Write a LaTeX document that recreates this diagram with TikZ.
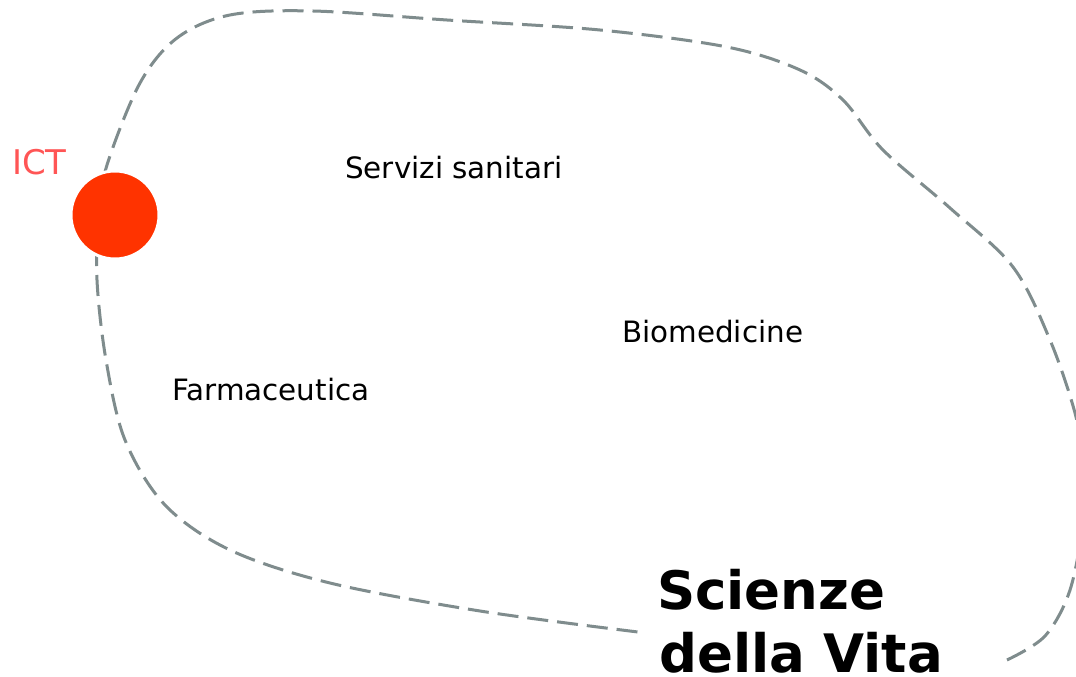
\documentclass[tikz,border=0pt]{standalone}
\usepackage{fontspec}
\setmainfont{DejaVu Sans}
\begin{document}
\begin{tikzpicture}[x=1pt,y=-1pt,
  outline/.style={draw=curvegray, line width=3pt, dash pattern=on 21pt off 9pt},
  lbl/.style={font=\fontsize{29.4}{35}\selectfont, text=black, inner sep=0pt, anchor=base west},
  title/.style={font=\fontsize{53}{62}\bfseries\selectfont, text=black, inner sep=0pt, text depth=0pt, anchor=base west},
  dot/.style={circle, fill=ictred, draw=white, line width=3pt, minimum size=88pt, inner sep=0pt}]
\definecolor{curvegray}{RGB}{127,140,141}
\definecolor{ictred}{RGB}{255,51,0}
\definecolor{icttext}{RGB}{255,85,85}
\clip (0,0) rectangle (1076,677);
\fill[white] (0,0) rectangle (1076,677);
\coordinate (e1) at (1007,660);
\coordinate (e2) at (638,632);
\draw[outline] plot[smooth, tension=0.55] coordinates {
  (1007,660) (1045,636) (1070,590) (1083,520) (1082,460) (1075,413)
  (1050,340) (1013,267) (950,208) (883,150) (843,100) (800,70)
  (727,47) (600,30) (447,20) (313,11) (230,15) (177,38)
  (140,83) (107,165) (99,215) (97,280) (106,360) (125,440)
  (165,505) (230,550) (330,583) (480,611) (638,632)};
\node[dot] (ict) at (115,215) {};
\node[lbl, text=icttext, font=\fontsize{34}{40}\selectfont] (ictl) at (12,174) {ICT};
\node[lbl] (serv) at (345,178) {Servizi sanitari};
\node[lbl] (bio) at (622,342) {Biomedicine};
\node[lbl] (farm) at (172,400) {Farmaceutica};
\node[title] (sv1) at (657,609) {Scienze};
\node[title] (sv2) at (659,672) {della Vita};
\end{tikzpicture}
\end{document}
